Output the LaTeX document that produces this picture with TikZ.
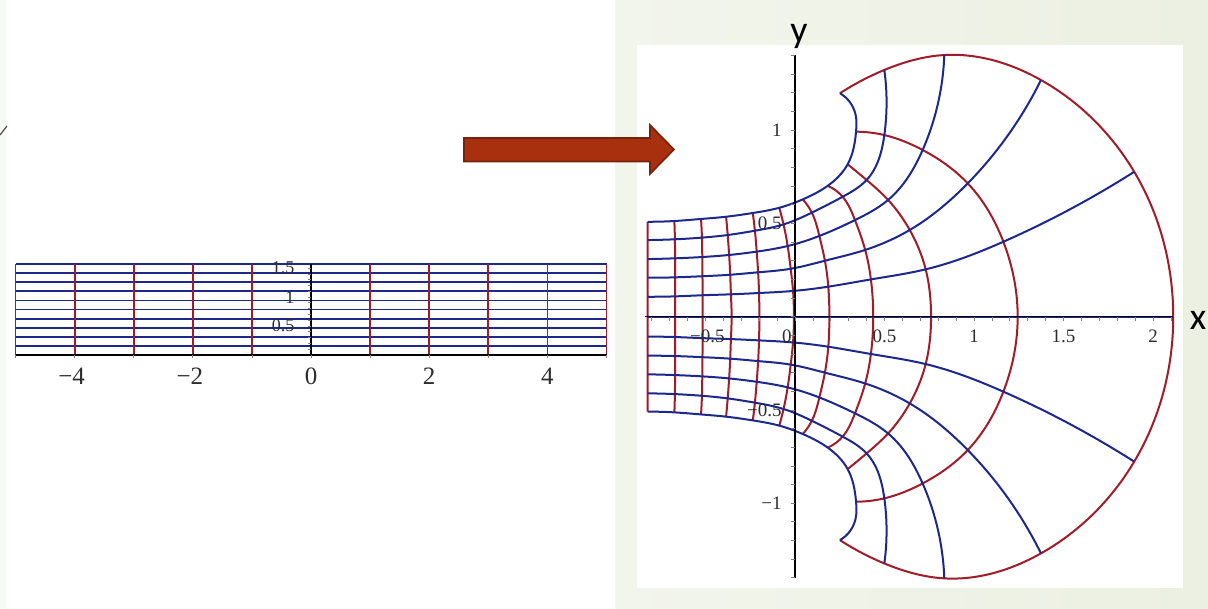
\documentclass[tikz,border=0pt]{standalone}
\usepackage{fontspec}
\setmainfont{Liberation Serif}
\newfontfamily\slidefont{Carlito}
\usepackage{xcolor}
\usepackage{tikz}
\usetikzlibrary{hobby}

\definecolor{mapred}{RGB}{160,28,40}
\definecolor{mapblue}{RGB}{28,40,140}
\definecolor{arrowfill}{RGB}{168,48,15}
\definecolor{arrowedge}{RGB}{118,34,12}
\definecolor{slidebg}{RGB}{236,240,226}
\definecolor{labelgray}{RGB}{45,45,45}

\begin{document}
\begin{tikzpicture}[x=0.5pt, y=-0.5pt,
    redline/.style={draw=mapred, line width=1pt},
    blueline/.style={draw=mapblue, line width=1pt},
    gridcurve/.style={hobby},
    axisline/.style={draw=black, line width=0.7pt},
    tickmark/.style={draw=gray, line width=0.4pt},
    ticklab/.style={text=labelgray, inner sep=1pt, font=\fontsize{9.5}{11}\selectfont},
    stripxlab/.style={text=labelgray, inner sep=1pt, font=\fontsize{12.5}{14}\selectfont},
    axislab/.style={inner sep=0pt, font=\slidefont\fontsize{19}{22}\selectfont}
]
    % Slide background and plot panels
    \useasboundingbox (0,0) rectangle (1208,609);
    \fill[left color=slidebg!35, right color=slidebg] (0,0) rectangle (1208,609);
    \fill[white] (6,0) rectangle (615,609);
    \fill[white] (637,45) rectangle (1183,588);
    \draw[gray!60!black, line width=0.6pt] (0,135) -- (7,126);

    % Block arrow
    \filldraw[fill=arrowfill, draw=arrowedge, line width=0.8pt]
        (464,138) -- (650,138) -- (650,125) -- (674,149.5) -- (650,174) -- (650,161.5) -- (464,161.5) -- cycle;

    % Strip
    \begin{scope}[shift={(311,355)}, x=29.55pt, y=28.95pt]
        \foreach \k in {0,...,10}
            \draw[blueline, line width=0.9pt] (-5,\k*pi/20) -- (5,\k*pi/20);
        \foreach \k in {-5,...,-1,1,2,3,4,5}
            \draw[redline, line width=0.9pt] (\k,0) -- (\k,pi/2);
        \draw[axisline] (-5,0) -- (5,0);
        \draw[axisline] (0,0) -- (0,pi/2);
        \foreach \k in {1,...,15}
            \draw[tickmark] (0,\k/10) -- ++(-1.5pt,0pt);
        \foreach \k in {-5,...,5}
            \draw[tickmark] (\k,0) -- ++(0pt,-1.5pt);
        \node[ticklab, anchor=east, font=\fontsize{9}{10}\selectfont] (sy15) at (-0.24,1.5) {1.5};
        \node[ticklab, anchor=east, font=\fontsize{9}{10}\selectfont] (sy1) at (-0.24,1) {1};
        \node[ticklab, anchor=east, font=\fontsize{9}{10}\selectfont] (sy05) at (-0.24,0.5) {0.5};
        \node[stripxlab] (sxm4) at (-4.05,-0.36) {−4};
        \node[stripxlab] (sxm2) at (-2.05,-0.36) {−2};
        \node[stripxlab] (sx0) at (0,-0.36) {0};
        \node[stripxlab] (sx2) at (2,-0.36) {2};
        \node[stripxlab] (sx4) at (4,-0.36) {4};
    \end{scope}

    % Image of the strip
    \begin{scope}[shift={(795,316.7)}, x=89.5pt, y=93.25pt]
        \foreach \i/\row in {
            0/{-0.823/0, -0.823/0.107, -0.823/0.209, -0.823/0.309, -0.823/0.411, -0.823/0.509},
            1/{-0.670/0, -0.670/0.109, -0.670/0.211, -0.670/0.313, -0.671/0.415, -0.674/0.513},
            2/{-0.516/0, -0.516/0.115, -0.517/0.217, -0.518/0.320, -0.520/0.424, -0.525/0.524},
            3/{-0.354/0, -0.358/0.120, -0.362/0.225, -0.368/0.331, -0.376/0.438, -0.385/0.536},
            4/{-0.199/0, -0.201/0.127, -0.206/0.238, -0.214/0.349, -0.224/0.461, -0.236/0.556},
            5/{-0.006/0, -0.011/0.138, -0.024/0.257, -0.041/0.379, -0.064/0.495, -0.088/0.584},
            6/{0.192/0, 0.186/0.161, 0.167/0.300, 0.136/0.433, 0.094/0.558, 0.043/0.629},
            7/{0.437/0, 0.424/0.200, 0.392/0.358, 0.335/0.518, 0.266/0.643, 0.183/0.702},
            8/{0.760/0, 0.730/0.254, 0.641/0.465, 0.520/0.626, 0.400/0.733, 0.294/0.817},
            9/{1.244/0, 1.164/0.402, 0.965/0.715, 0.713/0.894, 0.499/0.974, 0.341/0.992},
            10/{2.113/0, 1.895/0.777, 1.374/1.269, 0.834/1.403, 0.499/1.323, 0.251/1.198}}{
            \foreach \px/\py [count=\j from 0] in \row {
                \coordinate (p\i-\j) at (\px,\py);
                \coordinate (p\i-m\j) at (\px,-\py);
            }
        }
        % bulge of the boundary curve near the top and bottom
        \coordinate (q-5) at (0.338,1.085);
        \coordinate (q-m5) at (0.338,-1.085);

        % images of the vertical lines
        \foreach \i in {0,...,10}
            \draw[redline, gridcurve] plot coordinates {(p\i-m5) (p\i-m4) (p\i-m3) (p\i-m2) (p\i-m1) (p\i-0) (p\i-1) (p\i-2) (p\i-3) (p\i-4) (p\i-5)};
        % images of the horizontal lines
        \foreach \j in {m4,m3,m2,m1,0,1,2,3,4}
            \draw[blueline, gridcurve] plot coordinates {(p0-\j) (p1-\j) (p2-\j) (p3-\j) (p4-\j) (p5-\j) (p6-\j) (p7-\j) (p8-\j) (p9-\j) (p10-\j)};
        \foreach \j in {m5,5}
            \draw[blueline, gridcurve] plot coordinates {(p0-\j) (p1-\j) (p2-\j) (p3-\j) (p4-\j) (p5-\j) (p6-\j) (p7-\j) (p8-\j) (p9-\j) (q-\j) (p10-\j)};

        % axes
        \draw[axisline] (-0.84,0) -- (2.112,0);
        \draw[axisline] (0,-1.403) -- (0,1.403);
        \foreach \k in {-8,...,21}
            \draw[tickmark] (\k/10,0) -- ++(0pt,-2pt);
        \foreach \k in {-14,...,14}
            \draw[tickmark] (0,\k/10) -- ++(-2pt,0pt);
        \node[ticklab] (xm05) at (-0.49,-0.107) {−0.5};
        \node[ticklab] (x0) at (-0.045,-0.107) {0};
        \node[ticklab] (x05) at (0.5,-0.107) {0.5};
        \node[ticklab] (x1) at (1,-0.107) {1};
        \node[ticklab] (x15) at (1.5,-0.107) {1.5};
        \node[ticklab] (x2) at (2,-0.107) {2};
        \node[ticklab, anchor=east] (y1) at (-0.061,1) {1};
        \node[ticklab, anchor=east] (y05) at (-0.061,0.5) {0.5};
        \node[ticklab, anchor=east] (ym05) at (-0.061,-0.5) {−0.5};
        \node[ticklab, anchor=east] (ym1) at (-0.061,-1) {−1};
    \end{scope}

    % Axis names
    \node[axislab] (yname) at (799,36) {y};
    \node[axislab] (xname) at (1198,320) {x};
\end{tikzpicture}
\end{document}
